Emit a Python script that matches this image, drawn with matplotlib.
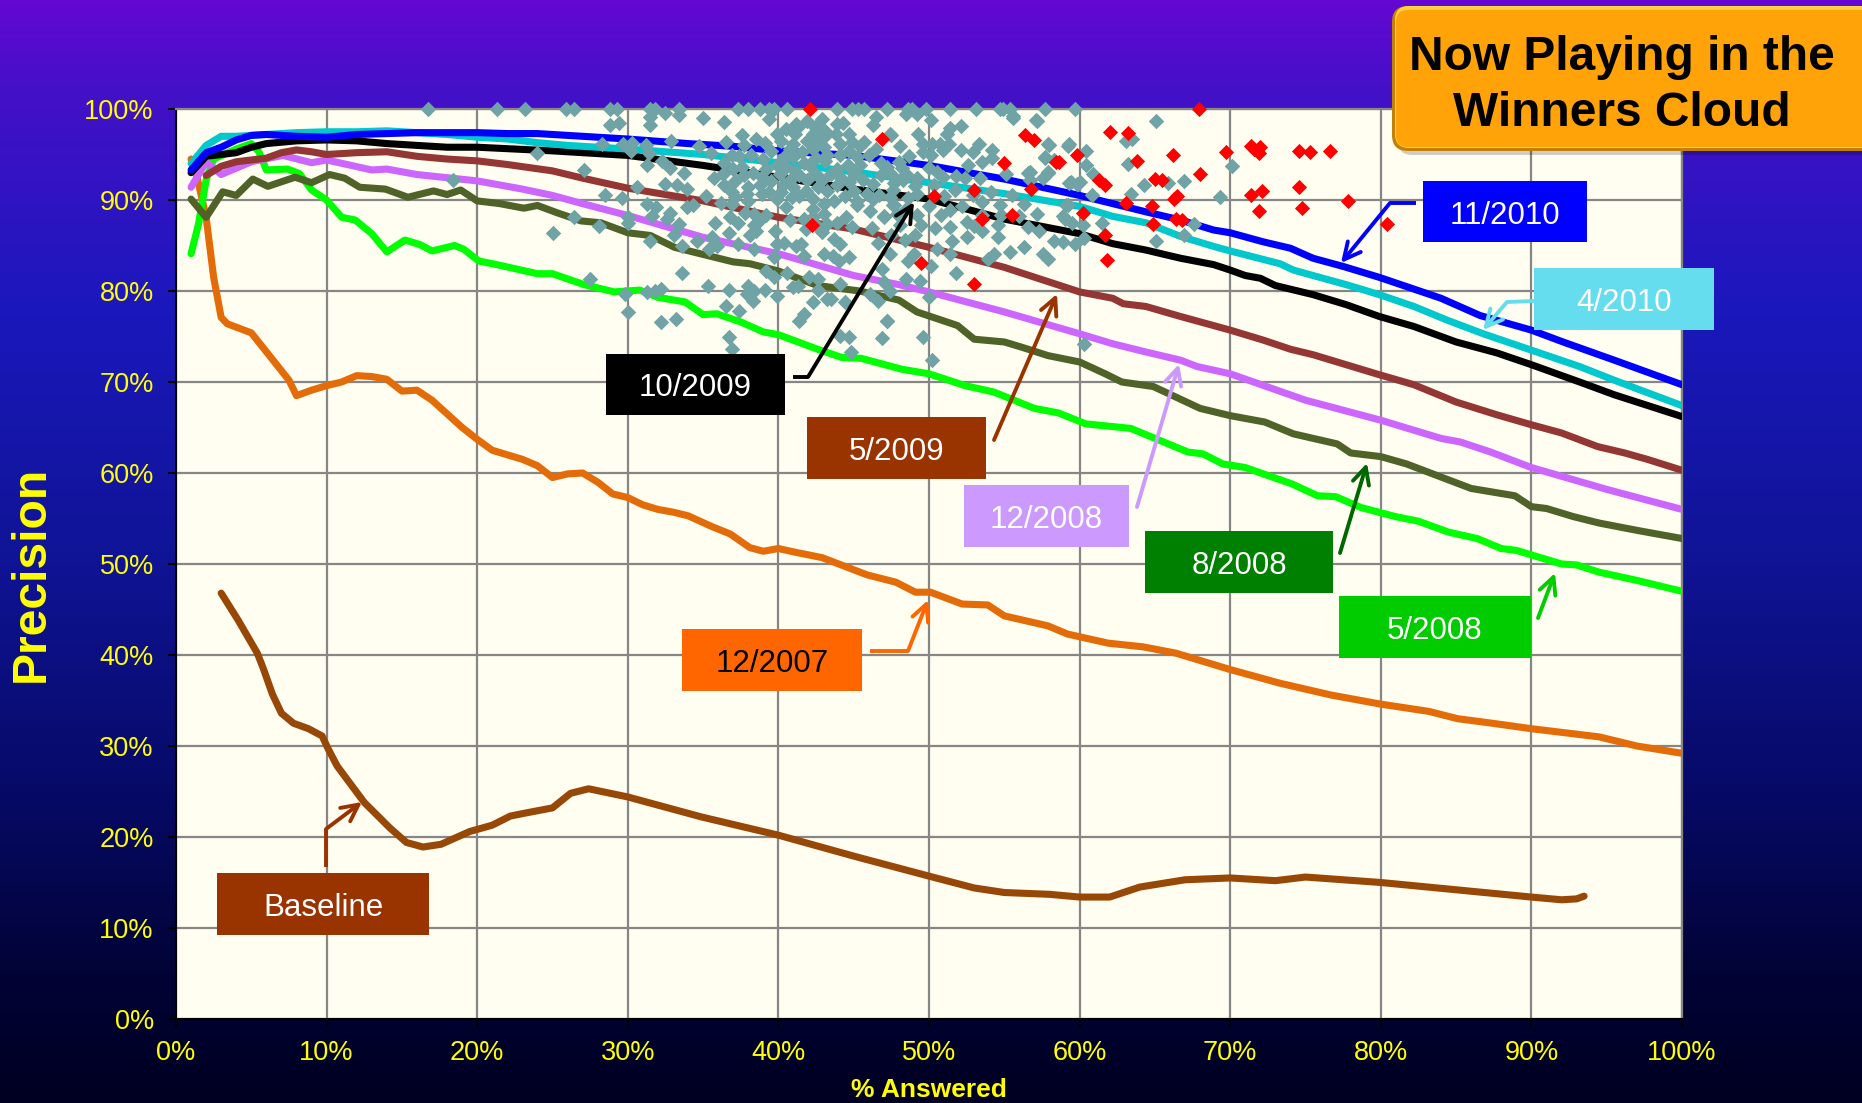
import numpy as np
import matplotlib
matplotlib.use('Agg')
import matplotlib.pyplot as plt
from matplotlib.patches import FancyBboxPatch, Rectangle
from matplotlib.colors import LinearSegmentedColormap

plt.rcParams['font.family'] = ['Liberation Sans', 'DejaVu Sans']

tick_vals = [0, 10, 20, 30, 40, 50, 60, 70, 80, 90, 100]

# values, (% answered, precision)
nov_2010 = [(1, 93.3), (2, 95.2), (3, 95.8), (4, 96.6), (5, 97.1), (6, 97.2), (7, 97.1), (8, 97.0), (10, 96.9),
            (12, 97.2), (14, 97.3), (16, 97.4), (18, 97.4), (20, 97.4), (22, 97.3), (24, 97.3), (26, 97.1),
            (30, 96.7), (34, 96.2), (37, 95.9), (40, 95.4), (45, 94.9), (50, 93.8), (55, 92.3), (60, 90.5),
            (62.2, 89.6), (64.4, 88.7), (66.7, 87.8), (68.9, 86.7), (70, 86.4), (72.2, 85.4), (74, 84.7), (75.5, 83.6),
            (77.5, 82.7), (79.9, 81.5), (84, 79.2), (86.6, 77.3), (90, 75.7), (92.1, 74.4), (95.5, 72.4), (100, 69.7)]
apr_2010 = [(1, 94), (2, 96.0), (3, 97.0), (4, 97.0), (5, 97.1), (6, 97.2), (8, 97.4), (10, 97.5), (12, 97.5),
            (14, 97.6), (16, 97.4), (18, 97.2), (20, 96.9), (22, 96.7), (24, 96.3), (26, 96.0), (30, 95.6),
            (35, 95.0), (40, 94.1), (45, 93.1), (50, 91.9), (55, 90.7), (60, 89.3), (62.2, 88.2), (64.4, 87.5),
            (66.7, 86.0), (68.9, 84.9), (70, 84.4), (73.3, 83.0), (74.2, 82.3), (75.5, 81.7), (77.7, 80.7), (79.9, 79.6),
            (82.2, 78.3), (84.4, 76.8), (86.8, 75.3), (90, 73.5), (93.2, 71.7), (95.5, 70.2), (100, 67.4)]
oct_2009 = [(1, 93), (2, 94.8), (3, 95.0), (4, 95.2), (5, 95.8), (6, 96.2), (8, 96.5), (10, 96.6), (12, 96.5),
            (14, 96.2), (16, 96.0), (18, 95.8), (20, 95.8), (25, 95.4), (30, 94.9), (35, 93.8), (40, 92.5),
            (45, 91.2), (50, 90.1), (55, 87.9), (60, 86.3), (62.2, 85.2), (64.4, 84.5), (66.7, 83.6), (68.9, 82.9),
            (70, 82.3), (71, 81.7), (72, 81.4), (73, 80.6), (75.5, 79.6), (77.7, 78.5), (79.9, 77.2), (82.2, 76.1),
            (85, 74.4), (87.7, 73.2), (90, 71.9), (93.2, 70.0), (95.5, 68.6), (100, 66.2)]
may_2009 = [(2, 92.7), (3, 93.7), (4, 94.2), (5, 94.4), (6, 94.6), (7, 95.2), (8, 95.5), (9, 95.3), (10, 95.0),
            (12, 95.2), (14, 95.3), (16, 94.8), (18, 94.5), (20, 94.3), (22, 93.9), (25, 93.2), (27, 92.4),
            (30, 91.3), (35, 89.9), (40, 88.1), (45, 86.8), (50, 84.8), (55, 82.6), (60, 79.9), (62.2, 79.2), (62.9, 78.6),
            (64.4, 78.3), (66.7, 77.2), (70, 75.7), (72.2, 74.6), (74, 73.6), (75.5, 73.0), (77.7, 71.9), (79.9, 70.8),
            (82.2, 69.7), (85, 67.8), (87.7, 66.4), (90, 65.3), (92, 64.4), (94.4, 62.9), (96.2, 62.2), (97.7, 61.5), (100, 60.3)]
dec_2008 = [(1, 91.4), (2, 94.2), (3, 92.8), (5, 94.2), (7.1, 94.9), (9, 94.1), (10, 94.4), (13, 93.3), (14, 93.4),
            (16, 92.8), (20, 92.1), (23, 91.2), (25, 90.5), (27, 89.6), (30, 88.3), (35, 85.9), (40, 84.1),
            (45, 81.7), (48, 80.7), (50, 79.9), (55, 77.7), (60, 75.3), (62.2, 74.2), (64.4, 73.3), (66.7, 72.4), (67.8, 71.7),
            (70, 70.9), (75, 68.0), (80, 65.8), (84, 63.8), (85.3, 63.4), (87.3, 62.3), (90, 60.6), (95, 58.2), (100, 56.0)]
aug_2008 = [(1, 90.1), (2, 88.1), (3.1, 90.9), (4, 90.5), (5.1, 92.3), (6.1, 91.5), (7.9, 92.5), (9, 91.9),
            (10.2, 92.8), (11.2, 92.4), (12.2, 91.4), (13.9, 91.2), (15.4, 90.3), (17.1, 91.0), (18, 90.6),
            (18.9, 91.1), (20, 89.9), (21.5, 89.6), (23.1, 89.1), (24, 89.4), (25.3, 88.6), (26.9, 87.7),
            (28.2, 87.5), (30, 86.4), (31.5, 86.1), (33.1, 84.8), (34.8, 84.1), (37, 83.2), (38.1, 83.0),
            (40, 82.2), (42.6, 80.6), (45.4, 80.0), (48, 79.0), (49.2, 77.7), (51.9, 76.2), (53, 74.7),
            (55, 74.4), (56.2, 73.8), (57.9, 72.9), (60, 72.2), (61.7, 70.9), (62.8, 70.0), (64.9, 69.5),
            (68, 67.1), (70, 66.3), (72.3, 65.6), (74.2, 64.3), (77.1, 63.2), (78, 62.2), (80, 61.8), (81.7, 61.0),
            (86, 58.3), (88.9, 57.5), (90, 56.3), (91, 56.1), (92.8, 55.2), (94.5, 54.5), (97, 53.7), (100, 52.8)]
may_2008 = [(1, 84.1), (1.5, 87.4), (2, 92.2), (2.5, 94.5), (4, 95.6), (5, 96.2), (5.5, 95.3), (6, 93.3), (7.4, 93.4),
            (8.2, 92.9), (9, 91.1), (10, 90.0), (11, 88.1), (11.9, 87.8), (13, 86.3), (14, 84.3), (15.2, 85.6),
            (16.2, 85.1), (17, 84.4), (18.5, 85.0), (19.1, 84.6), (20.1, 83.3), (21.3, 82.9), (24, 81.9), (25, 81.9),
            (27.1, 80.7), (29.1, 79.9), (30.8, 80.1), (32, 79.3), (33.8, 78.8), (35, 77.4), (35.9, 77.5), (37.5, 76.6),
            (39, 75.5), (40, 75.2), (42.6, 73.6), (44.2, 72.7), (45.5, 72.6), (48.2, 71.4), (50, 70.9), (52.4, 69.6),
            (54.3, 68.9), (57, 67.1), (58.6, 66.6), (60.4, 65.4), (63.4, 64.9), (67.2, 62.3), (68.2, 62.1), (69.5, 61.0),
            (71, 60.6), (74.1, 58.8), (75.8, 57.5), (77, 57.4), (78.7, 56.2), (81, 55.2), (82.5, 54.7), (84.5, 53.5),
            (86.4, 52.8), (88, 51.7), (89, 51.5), (92, 50.0), (93, 49.9), (94.5, 49.1), (97, 48.2), (100, 47.0)]
dec_2007 = [(1, 94.5), (1.4, 92.5), (2, 88.1), (2.5, 81.5), (3, 77.1), (3.4, 76.4), (5, 75.4), (6.3, 72.7), (7.5, 70.2),
            (8, 68.5), (9, 69.1), (10, 69.6), (11, 70.0), (12, 70.7), (13, 70.6), (14, 70.3), (15, 69.0), (16, 69.1),
            (17, 68.0), (18, 66.5), (19, 65.0), (20, 63.7), (21, 62.5), (22, 62.0), (23, 61.5), (24, 60.8), (25, 59.5),
            (26, 59.9), (27, 60.0), (28, 59.0), (29, 57.7), (30, 57.3), (31, 56.5), (32, 56.0), (33, 55.7), (34, 55.3),
            (35.6, 54.1), (36.8, 53.3), (38.1, 51.8), (39, 51.4), (40, 51.7), (41.1, 51.3), (42.9, 50.7), (45.9, 48.8),
            (47.8, 48.0), (49.1, 46.9), (50.1, 46.9), (52.2, 45.6), (53.9, 45.5), (55, 44.3), (57.9, 43.2), (59.2, 42.3),
            (61.9, 41.3), (64.2, 40.9), (66.4, 40.2), (70, 38.4), (73.3, 36.9), (76.7, 35.6), (80, 34.6), (83.2, 33.8),
            (85.1, 33.0), (87.4, 32.5), (90, 31.9), (94.5, 31.0), (97, 30.0), (100, 29.2)]
baseline = [(3, 46.8), (4.1, 43.9), (5.4, 40.2), (5.8, 38.5), (6.4, 35.7), (7, 33.6), (7.8, 32.5), (8.8, 31.9), (9.7, 31.1),
            (10.1, 29.7), (10.7, 27.8), (12.5, 23.8), (14.2, 21.0), (15.3, 19.4), (16.4, 18.9), (17.6, 19.2), (19.5, 20.6),
            (21, 21.3), (22.2, 22.3), (23.1, 22.6), (25, 23.2), (26.2, 24.8), (27.4, 25.3), (30, 24.4), (34.9, 22.2),
            (40, 20.2), (45, 17.9), (50, 15.7), (53, 14.4), (55, 13.9), (58, 13.7), (60, 13.4), (62, 13.4), (64, 14.5),
            (67, 15.3), (70, 15.5), (73, 15.2), (75, 15.6), (80, 15.0), (85, 14.2), (90, 13.4), (92, 13.1), (93, 13.2),
            (93.5, 13.5)]

winners = [(67.9, 100), (62, 97.5), (63.2, 97.4), (56.4, 97.1), (57, 96.6), (46.9, 96.7), (69.7, 95.3), (71.4, 95.9),
           (71.6, 95.6), (72, 95.8), (71.9, 95.2), (74.6, 95.4), (75.3, 95.3), (76.6, 95.4), (66.2, 95), (59.8, 95),
           (63.8, 94.3), (55, 94.1), (58.4, 94.2), (58.6, 94.2), (68, 92.9), (65, 92.3), (65.5, 92.2), (61.3, 92.2),
           (61.7, 91.6), (53, 91.1), (56.8, 91.2), (72.1, 91), (71.4, 90.5), (74.6, 91.4), (77.8, 89.9), (66.5, 90.4),
           (66.3, 90.1), (63.1, 89.7), (64.8, 89.3), (50.3, 90.4), (74.8, 89.1), (71.9, 88.8), (60.2, 88.6), (55.5, 88.3),
           (53.5, 87.9), (66.4, 87.9), (66.8, 87.8), (64.9, 87.4), (80.4, 87.4), (61.7, 86.2), (61.8, 83.4), (49.5, 83.1),
           (53, 80.8), (42.1, 100), (42.2, 87.3)]

cloud_top_x = [16.7, 21.3, 23.2, 25.9, 26.4, 28.8, 29.3, 31.5, 31.8, 33.4, 37.3, 38, 38.8, 39.4, 39.7, 40.6, 43.9, 44.9,
               45.3, 45.7, 47.2, 48.6, 48.9, 49.8, 51.4, 53.1, 54.7, 54.9, 55.4, 57.7, 59.7]
cloud = [(31.5, 99.1), (31.5, 98.2), (28.8, 98.2), (29.4, 98.5), (32.5, 99.6), (33.4, 99.3), (35, 99), (36.4, 98.6), (39.4, 98.9),
         (28.3, 96.2), (29.7, 96.2), (30.3, 96.3), (30.2, 95.4), (31.2, 96), (31.4, 95.2), (32.9, 96.5), (34.7, 95.9), (35.5, 95.2),
         (36.5, 96.4), (37.6, 97.1), (37.7, 96), (38.5, 96.7), (24, 95.2), (27.1, 93.3), (18.4, 92.2), (28.5, 90.5), (29.6, 90.2),
         (30.6, 91.4), (31.3, 93.8), (32.3, 94.3), (32.8, 93.5), (33.7, 93), (32.5, 91.8), (33.3, 91.6), (33.9, 91.2), (35.2, 90.4),
         (35.7, 92.4), (31.3, 89.6), (31.9, 89.2), (31.6, 88.2), (32.8, 88.6), (32.6, 87.9), (33.4, 87.4), (33.9, 89.2), (34.3, 89.4),
         (36.2, 89.7), (36.9, 89.6), (30, 88.1), (30, 87.5), (26.4, 88.1), (28.1, 87.1), (25, 86.4), (35.8, 87.5), (37.3, 87.5),
         (36.7, 86.4), (35.6, 85.9), (34.6, 85.5), (33.1, 86.1), (33.6, 85), (31.5, 85.5), (35.4, 84.6), (35.9, 85), (37.3, 85.2),
         (38.4, 84.6), (38.5, 86.6), (38.4, 88.5), (38.1, 86.1), (39.8, 86.6), (39.9, 85.2), (39.7, 83.7), (40.5, 89.2), (40.8, 87.8),
         (41.2, 85), (41.5, 85.2), (41.7, 83.9), (43, 84.1), (43.6, 83.9), (44, 83.3), (44.7, 83.7), (43.7, 85.7), (44.1, 85.2),
         (46.6, 85.3), (47.5, 86.1), (47, 88.1), (46.1, 88.8), (45.2, 89.4), (46.9, 82.4), (47.4, 84.1), (33.6, 82), (35.3, 80.5),
         (36.7, 80.1), (38, 80.6), (38.4, 80), (37.9, 79.7), (39.1, 80.1), (39.9, 79.4), (39.2, 82.2), (39.7, 81.5), (40.6, 82),
         (41, 80.4), (41.3, 80.5), (42, 81.5), (42.6, 81.3), (42.6, 80.1), (44.1, 80.8), (43.2, 79.1), (42.3, 78.8), (44.4, 78.8),
         (43.5, 79.1), (27.5, 81.3), (29.8, 79.7), (31.3, 79.9), (31.8, 80), (32.2, 80.2), (30, 77.7), (32.2, 76.6), (33.2, 76.9),
         (36.5, 78.4), (37.4, 77.8), (38.3, 78.9), (36.7, 74.9), (36.9, 73.6), (41.7, 77.5), (41.4, 76.7), (44.1, 75.1), (44.7, 74.9),
         (44.8, 73.3), (46.9, 74.8), (47.2, 76.7), (46.6, 78.9), (46.1, 79.7), (47, 81), (47.4, 80),
         (41.2, 98.4), (41.9, 98.7), (42.9, 98.9), (43.9, 98.4), (44.3, 98.5), (46.5, 99.1), (46.3, 98.2), (40.5, 97.8), (39.9, 97.3),
         (41.1, 97.3), (42.3, 97.3), (43, 96.9), (44.7, 97.3), (45.7, 96.4), (47.5, 97.1), (46.5, 95.6), (39.5, 95.4), (39, 94.5),
         (40.4, 94.7), (41, 94.7), (41.7, 94.1), (43, 95.8), (43.2, 94.9), (44.7, 95.4), (44.1, 94.9), (45.2, 94.7), (45.4, 93.8),
         (44.6, 93.8), (43.1, 94.3), (41.3, 98), (42.4, 98), (43.1, 97.6), (41.9, 96.5), (42.4, 96.3), (41, 96.2), (43.8, 97.3),
         (36.4, 94.1), (37, 93.4), (37.6, 93.6), (36.3, 92.9), (38.3, 93), (39.2, 93.4), (39.9, 93.8), (40.5, 93.6), (41.4, 92.7),
         (42.4, 93), (43.5, 92.9), (44.1, 92.5), (46.8, 92.7), (47.7, 91.9), (46.3, 91.8), (36.4, 91.6), (37.1, 92.1), (38, 91.4),
         (38.8, 91.6), (39.5, 92.1), (40.4, 91.8), (41, 91.4), (41.8, 91), (42.6, 91.4), (43.2, 91), (43.9, 91.6), (45, 91), (45.9, 90.7),
         (46.7, 90.5), (47.4, 90.3), (37.1, 90.3), (38, 89.9), (38.9, 90.7), (39.9, 90.1), (40.9, 90.3), (42.3, 89), (43, 89.6),
         (43.7, 89.9), (45.2, 89.9), (47.6, 89.4), (47.9, 88.5), (41.7, 87.9), (42.3, 88.1), (43, 88.5), (43.2, 87.4), (43.9, 87.5),
         (41.8, 86.8), (42.6, 87), (44.5, 88.1), (38.4, 87.2), (38.7, 87.7),
         (47.4, 97.2), (48.1, 95.9), (49.3, 97.3), (50.1, 98.8), (48.5, 99.5), (49.2, 99.5), (51.4, 97.9), (52.1, 98.1), (51.2, 97.2),
         (49.6, 96.2), (50.2, 96.2), (50.7, 96.2), (51.3, 96.2), (49.6, 95.3), (50.1, 95), (50.9, 95.5), (52.1, 95.5), (53.3, 96.2),
         (52.9, 95.3), (54.2, 95.5), (53.5, 94.2), (52.6, 93.9), (54.2, 94.6), (48.7, 94.8), (48, 94.2), (48.2, 93.5), (48.5, 92.9),
         (49.2, 92.4), (50, 93.5), (50.5, 93.1), (51.8, 92.6), (52.4, 92.4), (53.4, 92.4), (51.7, 91.1), (47.6, 92.6), (48.3, 92.2),
         (47.6, 91.1), (49.2, 90.7), (47.7, 89.5), (50, 89.3), (52.2, 89.3), (53.5, 89.8), (47, 88.2), (49.5, 87.3), (52.5, 87.6),
         (53.5, 88.4), (54.7, 89.5), (54.8, 88.4), (54.6, 87.3), (56.3, 89.6), (56, 88.2), (57.2, 88.5), (58.9, 88.2), (59.1, 89.5),
         (55.1, 92.9), (56.7, 93.1), (57.9, 96.1), (59.3, 96.1), (57.7, 94.6), (58.3, 94.4), (57.9, 93.1), (57.6, 92.4), (59.4, 92),
         (60, 92), (56.7, 92.2), (57.1, 98.8), (55.6, 99.2),
         (65.1, 98.7), (63.1, 96.5), (63.5, 96.7), (63.2, 94), (64.3, 91.6), (65.9, 91.9), (66.9, 92.1), (70.1, 93.7), (69.3, 90.3),
         (63.4, 90.7), (67.6, 87.4), (66.9, 86.2), (65.1, 85.5), (61.5, 87.5), (60.3, 85.8), (59.7, 85.2), (58.9, 85.4), (58.3, 85.5),
         (60.2, 87.2), (59, 87.9), (59.5, 87.5), (60.8, 90.6), (59.2, 89.5), (59.8, 91.8), (59.3, 91.9), (60.4, 95.4), (59.2, 95.9),
         (60.4, 93.9), (60.9, 92.9), (58, 96), (57.7, 94.7), (57.9, 93), (57.2, 98.7), (55.6, 99), (56.6, 93), (57.3, 86.6), (56.3, 84.8),
         (55.4, 84.3), (57.6, 84.1), (57.9, 83.5), (54.3, 84.1), (53.9, 83.5), (51.8, 82), (50, 79.3), (47.2, 76.7), (49.6, 74.9),
         (50.2, 72.4), (60.3, 74.2), (48.6, 83.3), (49, 84.1), (50.1, 82.8), (48.5, 81.3), (49.4, 81.1), (50.5, 84.6), (51.4, 84.1),
         (51.5, 85.5), (52.5, 85.9), (54.6, 85.9), (53.5, 86.6), (56.6, 87)]
# the thick middle of the cloud, where single marks run together
cloud_dense = [(39.1, 96.3), (40.2, 96.5), (40.8, 95.6), (41.6, 95.3), (42.3, 95.6), (42.5, 94.6), (44.1, 96.2), (44.9, 96.4), (45.4, 95.9),
               (46, 94.9), (46.8, 94.1), (47.2, 93.6), (38.2, 95), (37.4, 94.8), (36.9, 94.9), (40.1, 92.9), (41.1, 93.2), (42, 93.8),
               (43.9, 93.4), (45, 92.9), (45.6, 92.2), (44.7, 92), (42.9, 92.2), (41.9, 92.2), (40.9, 92.4), (38.9, 92.5), (37.7, 92.7),
               (36.9, 90.9), (37.9, 90.7), (39.4, 90.9), (40.2, 90.9), (41.4, 90.4), (42.3, 90.1), (44.4, 90.4), (46.3, 90.1), (48.6, 90.2),
               (49.1, 91.5), (50.3, 91.6), (50.9, 92.5), (51, 90.4), (48.4, 88.9), (49.2, 88.4), (50.8, 88.4), (51.4, 88.9), (52.9, 90.6),
               (54.1, 90.9), (55.5, 90.5), (53, 87.1), (42.9, 86.5), (44.9, 87), (46.2, 86.9), (48.1, 87.3), (50.4, 86.9), (51.4, 87),
               (49.1, 86.1), (48.4, 85.6), (40.4, 85.3), (39.2, 88.3), (37.8, 88.6), (36.8, 88.1)]

W, H = 1862, 1103
fig = plt.figure(figsize=(W / 100, H / 100), dpi=100)

# slide background
bg = fig.add_axes([0, 0, 1, 1], zorder=0)
cmap = LinearSegmentedColormap.from_list('slide', [(0, '#6208D2'), (0.08, '#4410C8'), (0.28, '#1B18BC'), (0.5, '#101497'),
                                                   (0.72, '#060A66'), (0.88, '#020336'), (1, '#000022')])
bg.imshow(np.linspace(0, 1, 256).reshape(-1, 1), aspect='auto', cmap=cmap, extent=[0, 1, 0, 1], origin='upper')
bg.axis('off')

ax = fig.add_axes([176 / W, (H - 1019) / H, 1506 / W, 910 / H], zorder=1)
ax.set_facecolor('#FFFEF0')
ax.set_xlim(0, 100)
ax.set_ylim(0, 100)
ax.set_xticks(tick_vals)
ax.set_yticks(tick_vals)
ax.set_xticklabels([f'{v}%' for v in tick_vals])
ax.set_yticklabels([f'{v}%' for v in tick_vals])
ax.tick_params(colors='black', labelcolor='#FFFF00', labelsize=19.5, length=6, width=1.5)
ax.tick_params(axis='x', pad=9)
ax.tick_params(axis='y', pad=10)
ax.grid(True, color='#868686', lw=1.6)
ax.set_axisbelow(True)
for side in ['top', 'right']:
    ax.spines[side].set_color('#868686')
    ax.spines[side].set_linewidth(1.6)
for side in ['left', 'bottom']:
    ax.spines[side].set_color('black')
    ax.spines[side].set_linewidth(1.5)

series = [(baseline, '#984806'), (dec_2007, '#E36C09'), (may_2008, '#00FF00'), (aug_2008, '#4F6228'), (dec_2008, '#CC66FF'),
          (may_2009, '#943634'), (oct_2009, '#000000'), (apr_2010, '#00C8CC'), (nov_2010, '#0000FF')]
for i, (pts, col) in enumerate(series):
    pts = np.array(pts)
    ax.plot(pts[:, 0], pts[:, 1], color=col, lw=5.1, solid_capstyle='round', solid_joinstyle='round', zorder=3 + i * 0.1)

cloud_pts = np.array(cloud + cloud_dense)
ax.scatter(cloud_pts[:, 0], cloud_pts[:, 1], marker='D', s=62, color='#6FA3A5', lw=0, zorder=5, clip_on=False)
ax.scatter(cloud_top_x, [100] * len(cloud_top_x), marker='D', s=62, color='#6FA3A5', lw=0, zorder=5, clip_on=False)
win_pts = np.array(winners)
ax.scatter(win_pts[:, 0], win_pts[:, 1], marker='D', s=60, color='#FF0000', lw=0, zorder=6, clip_on=False)

fig.text(31 / W, 1 - 574 / H, 'Precision', color='#FFFF00', fontsize=34.6, fontweight='bold', rotation=90, ha='center', va='center')
fig.text(929 / W, 1 - 1090 / H, '% Answered', color='#FFFF00', fontsize=19, fontweight='bold', ha='center', va='center')

# overlay in image pixels for the slide call-outs
over = fig.add_axes([0, 0, 1, 1], zorder=2)
over.set_xlim(0, W)
over.set_ylim(H, 0)
over.axis('off')
over.patch.set_alpha(0)

callouts = [('11/2010', 1423, 1587, 181, 242, '#0000FF', 'white', '#0000FF', [(1416, 203), (1390, 203)], (1341, 263)),
            ('4/2010', 1534, 1714, 268, 330, '#66DDEE', 'white', '#66DDEE', [(1534, 301), (1507, 302)], (1483, 330)),
            ('10/2009', 606, 785, 354, 415, '#000000', 'white', '#000000', [(793, 377), (808, 377)], (914, 202)),
            ('5/2009', 807, 986, 417, 479, '#993300', 'white', '#993300', [(994, 440)], (1057, 294)),
            ('12/2008', 964, 1129, 485, 547, '#CC99FF', 'white', '#CC99FF', [(1137, 507)], (1179, 364)),
            ('8/2008', 1145, 1333, 531, 593, '#008000', 'white', '#006600', [(1340, 553)], (1367, 463)),
            ('5/2008', 1339, 1531, 596, 658, '#00CC00', 'white', '#00CC00', [(1538, 618)], (1555, 573)),
            ('12/2007', 682, 862, 629, 691, '#FF6600', 'black', '#FF6600', [(870, 651), (908, 651)], (928, 600)),
            ('Baseline', 217, 429, 873, 935, '#993300', 'white', '#993300', [(326, 867), (326, 829)], (362, 802))]
for label, x0, x1, y0, y1, face, txt, acol, stem, tip in callouts:
    over.add_patch(Rectangle((x0, y0), x1 - x0, y1 - y0, facecolor=face, edgecolor='none', zorder=5))
    over.text((x0 + x1) / 2, (y0 + y1) / 2 + 4, label, color=txt, fontsize=22.5, ha='center', va='center', zorder=6)
    if len(stem) > 1:
        over.plot([p[0] for p in stem], [p[1] for p in stem], color=acol, lw=2.8, zorder=4, solid_capstyle='butt')
    over.annotate('', xy=tip, xytext=stem[-1], zorder=4,
                  arrowprops=dict(arrowstyle='->', color=acol, lw=2.8, mutation_scale=30, shrinkA=0, shrinkB=0))

# title box with bevel
over.add_patch(FancyBboxPatch((1398, 14), 480, 141, boxstyle='round,pad=0,rounding_size=14', facecolor='#00000030',
                              edgecolor='none', zorder=7))
over.add_patch(FancyBboxPatch((1392, 6), 490, 145, boxstyle='round,pad=0,rounding_size=16', facecolor='#C47F06',
                              edgecolor='none', zorder=8))
over.add_patch(FancyBboxPatch((1395, 6), 486, 142, boxstyle='round,pad=0,rounding_size=14', facecolor='#FFD23C',
                              edgecolor='none', zorder=9))
over.add_patch(FancyBboxPatch((1396, 10), 484, 137, boxstyle='round,pad=0,rounding_size=12', facecolor='#FFA308',
                              edgecolor='none', zorder=10))
over.text(1622, 58, 'Now Playing in the', color='black', fontsize=34.5, fontweight='bold', ha='center', va='center', zorder=11)
over.text(1622, 113, 'Winners Cloud', color='black', fontsize=34.5, fontweight='bold', ha='center', va='center', zorder=11)

fig.savefig('out.png', dpi=100)
